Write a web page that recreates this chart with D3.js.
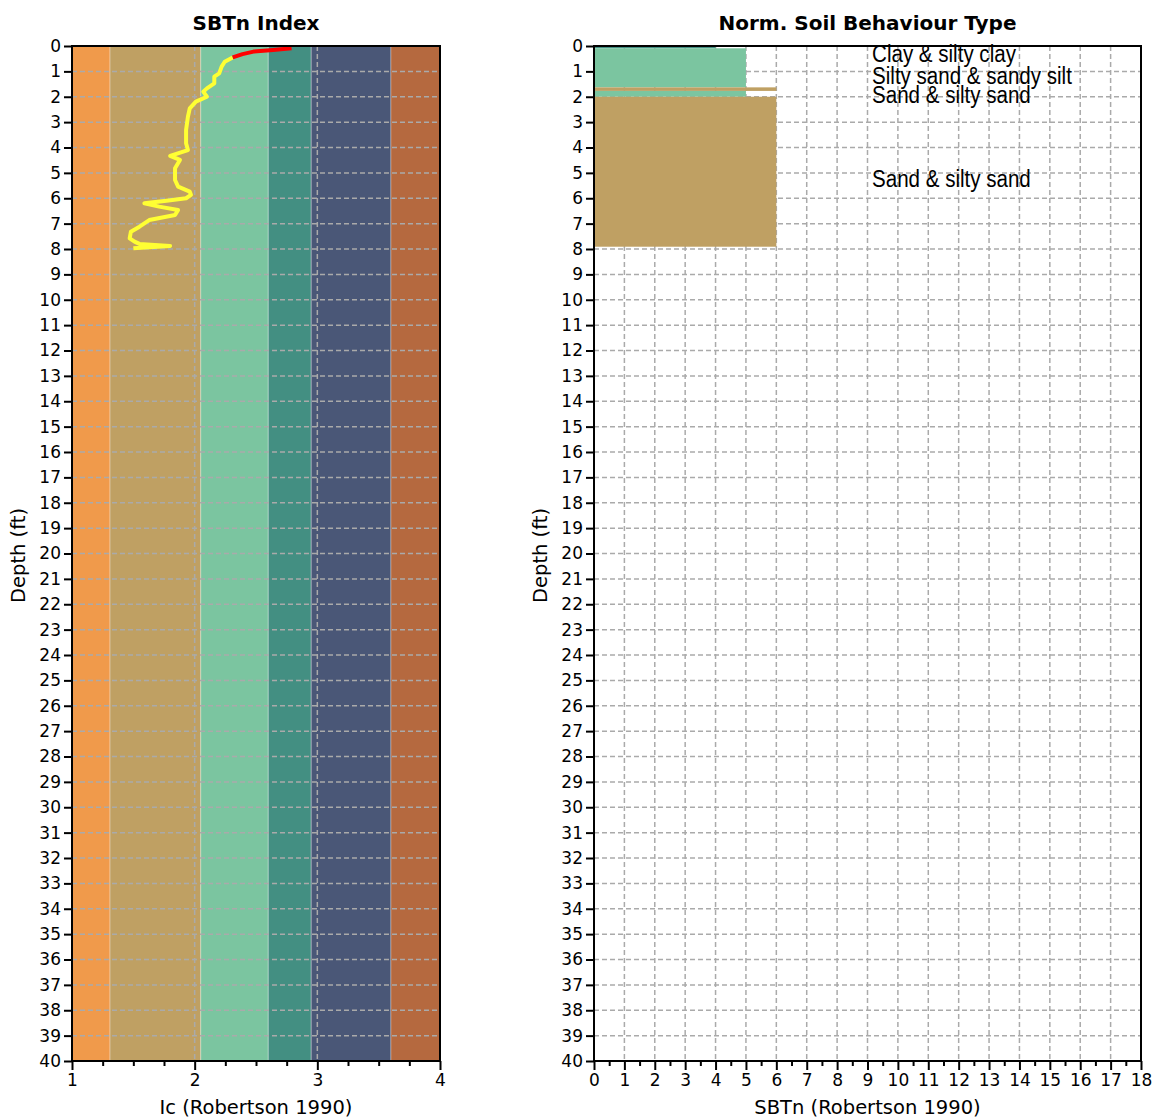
<!DOCTYPE html>
<html><head><meta charset="utf-8">
<script src="https://cdn.jsdelivr.net/npm/d3@7"></script>
<style>
body{margin:0;background:#fff;}
svg{display:block;}
</style></head>
<body>
<svg id="chart" width="1153" height="1119"></svg>
<script>
// ---------- DATA ----------
const depthTicks = d3.range(0, 41);            // 0..40 ft
const icTicks = [1, 2, 3, 4];
const sbtTicks = d3.range(0, 19);              // 0..18

// Ic zone bands (Robertson 1990)
const bandStarts = [1.00, 1.31, 2.05, 2.60, 2.95, 3.60];
const bandEnds   = [1.31, 2.05, 2.60, 2.95, 3.60, 4.00];
const bandColors = ["#F09A4B", "#BFA063", "#7BC5A0", "#438F82", "#4A5777", "#B5693F"];

// Ic profile
const icDepth = [0.09, 0.16, 0.22, 0.32, 0.45, 0.62, 0.81, 1.08, 1.21, 1.47, 1.67, 1.80, 2.00, 2.19, 2.46, 2.79, 3.31, 3.83, 4.10, 4.33, 4.49, 4.82, 5.28, 5.54, 5.74, 5.87, 6.00, 6.10, 6.20, 6.33, 6.46, 6.66, 6.86, 6.99, 7.12, 7.32, 7.58, 7.71, 7.80, 7.88, 7.97];
const icValue = [2.79, 2.64, 2.48, 2.39, 2.31, 2.245, 2.22, 2.20, 2.16, 2.16, 2.10, 2.07, 2.10, 2.01, 1.96, 1.945, 1.93, 1.93, 1.945, 1.80, 1.88, 1.84, 1.84, 1.865, 1.96, 1.97, 1.93, 1.77, 1.59, 1.71, 1.865, 1.84, 1.63, 1.59, 1.55, 1.48, 1.47, 1.51, 1.55, 1.80, 1.50];
const redUntilDepth = 0.45;  // upper part drawn in red

// SBTn layers
const layerTop    = [0.00, 0.09, 1.63, 1.77, 2.00];
const layerBottom = [0.09, 1.63, 1.77, 2.00, 7.91];
const layerSbt    = [4, 5, 6, 5, 6];
const layerColor  = ["#438F82", "#7BC5A0", "#BFA063", "#7BC5A0", "#BFA063"];

// SBTn labels
const labelText  = ["Clay & silty clay", "Silty sand & sandy silt", "Sand & silty sand", "Sand & silty sand"];
const labelDepth = [0.63, 1.50, 2.26, 5.54];
const labelX     = 9.15;

// ---------- LAYOUT ----------
const svg = d3.select("#chart");
const yTop = 46, yBot = 1061;
const L = {x0: 72, x1: 440};
const R = {x0: 594, x1: 1141};
const tickFont = "DejaVu Sans";
const gridColor = "#aaaaaa";

const y = d3.scaleLinear().domain([0, 40]).range([yTop, yBot]);
const xL = d3.scaleLinear().domain([1, 4]).range([L.x0, L.x1]);
const xR = d3.scaleLinear().domain([0, 18]).range([R.x0, R.x1]);

function drawFrame(g, x, x0, x1, majorTicks, minorStep, title, xTitle) {
  const ya = g.append("g").attr("transform", `translate(${x0},0)`)
    .call(d3.axisLeft(y).tickValues(depthTicks).tickFormat(d3.format("d")).tickSize(8).tickPadding(3));
  ya.select(".domain").remove();
  ya.selectAll("line").attr("stroke", "#000").attr("stroke-width", 2);
  ya.selectAll("text").attr("font-family", tickFont).attr("font-size", 17).attr("fill", "#000");

  const dom = x.domain();
  const minor = d3.range(dom[0], dom[1] + 1e-9, minorStep).filter(v => !majorTicks.some(m => Math.abs(m - v) < 1e-9));
  const xm = g.append("g").attr("transform", `translate(0,${yBot})`)
    .call(d3.axisBottom(x).tickValues(minor).tickFormat("").tickSize(5));
  xm.select(".domain").remove();
  xm.selectAll("line").attr("stroke", "#000").attr("stroke-width", 2);

  const xa = g.append("g").attr("transform", `translate(0,${yBot})`)
    .call(d3.axisBottom(x).tickValues(majorTicks).tickFormat(d3.format("d")).tickSize(9).tickPadding(4));
  xa.select(".domain").remove();
  xa.selectAll("line").attr("stroke", "#000").attr("stroke-width", 2);
  xa.selectAll("text").attr("font-family", tickFont).attr("font-size", 17).attr("fill", "#000");

  g.append("rect").attr("x", x0).attr("y", yTop).attr("width", x1 - x0).attr("height", yBot - yTop)
    .attr("fill", "none").attr("stroke", "#000").attr("stroke-width", 2);

  g.append("text").attr("x", (x0 + x1) / 2).attr("y", 30).attr("text-anchor", "middle")
    .attr("font-family", tickFont).attr("font-weight", "bold").attr("font-size", 20).text(title);
  g.append("text").attr("x", (x0 + x1) / 2).attr("y", 1114).attr("text-anchor", "middle")
    .attr("font-family", tickFont).attr("font-size", 19.5).text(xTitle);
  g.append("text").attr("transform", `translate(${x0 - 47},${(yTop + yBot) / 2 + 2}) rotate(-90)`)
    .attr("text-anchor", "middle").attr("font-family", tickFont).attr("font-size", 19.5).text("Depth (ft)");
}

// ---------- LEFT CHART ----------
const gL = svg.append("g");
gL.selectAll("rect.band").data(bandStarts).join("rect").attr("class", "band")
  .attr("x", (d) => xL(d)).attr("y", yTop)
  .attr("width", (d, i) => xL(bandEnds[i]) - xL(d)).attr("height", yBot - yTop)
  .attr("fill", (d, i) => bandColors[i])
  .attr("stroke", "rgba(255,255,255,0.3)").attr("stroke-width", 1);

gL.selectAll("line.hg").data(depthTicks.slice(1, -1)).join("line").attr("class", "hg")
  .attr("x1", L.x0).attr("x2", L.x1).attr("y1", d => y(d)).attr("y2", d => y(d))
  .attr("stroke", gridColor).attr("stroke-width", 1.5).attr("stroke-dasharray", "5,3");
gL.selectAll("line.vg").data([2, 3]).join("line").attr("class", "vg")
  .attr("x1", d => xL(d)).attr("x2", d => xL(d)).attr("y1", yTop).attr("y2", yBot)
  .attr("stroke", gridColor).attr("stroke-width", 1.5).attr("stroke-dasharray", "5,3");

const pts = icDepth.map((d, i) => ({d, v: icValue[i]}));
const line = d3.line().x(p => xL(p.v)).y(p => y(p.d));
const redPts = pts.filter(p => p.d <= redUntilDepth);
const yelPts = pts.filter(p => p.d >= redUntilDepth);
gL.append("path").attr("d", line(yelPts)).attr("fill", "none").attr("stroke", "#FFFF33")
  .attr("stroke-width", 4).attr("stroke-linejoin", "round");
gL.append("path").attr("d", line(redPts)).attr("fill", "none").attr("stroke", "#FF0000")
  .attr("stroke-width", 4).attr("stroke-linejoin", "round");

drawFrame(gL, xL, L.x0, L.x1, icTicks, 0.25, "SBTn Index", "Ic (Robertson 1990)");

// ---------- RIGHT CHART ----------
const gR = svg.append("g");
gR.selectAll("line.hg").data(depthTicks.slice(1, -1)).join("line").attr("class", "hg")
  .attr("x1", R.x0).attr("x2", R.x1).attr("y1", d => y(d)).attr("y2", d => y(d))
  .attr("stroke", gridColor).attr("stroke-width", 1.5).attr("stroke-dasharray", "5,3");
gR.selectAll("line.vg").data(sbtTicks.slice(1, -1)).join("line").attr("class", "vg")
  .attr("x1", d => xR(d)).attr("x2", d => xR(d)).attr("y1", yTop).attr("y2", yBot)
  .attr("stroke", gridColor).attr("stroke-width", 1.5).attr("stroke-dasharray", "5,3");

gR.selectAll("rect.layer").data(layerTop).join("rect").attr("class", "layer")
  .attr("x", xR(0)).attr("y", d => y(d))
  .attr("width", (d, i) => xR(layerSbt[i]) - xR(0))
  .attr("height", (d, i) => y(layerBottom[i]) - y(d))
  .attr("fill", (d, i) => layerColor[i]);

drawFrame(gR, xR, R.x0, R.x1, sbtTicks, 0.5, "Norm. Soil Behaviour Type", "SBTn (Robertson 1990)");

// condensed labels (tall narrow face)
const lbls = gR.selectAll("text.lbl").data(labelText).join("text").attr("class", "lbl")
  .attr("x", 0).attr("y", 0)
  .attr("font-family", "Liberation Sans")
  .attr("font-size", 23).attr("fill", "#000").text(d => d);
let maxW = 0;
lbls.each(function () { maxW = Math.max(maxW, this.getComputedTextLength()); });
const sx = 200 / maxW;
lbls.attr("transform", (d, i) => `translate(${xR(labelX)},${y(labelDepth[i])}) scale(${sx},1)`);
</script>
</body></html>
